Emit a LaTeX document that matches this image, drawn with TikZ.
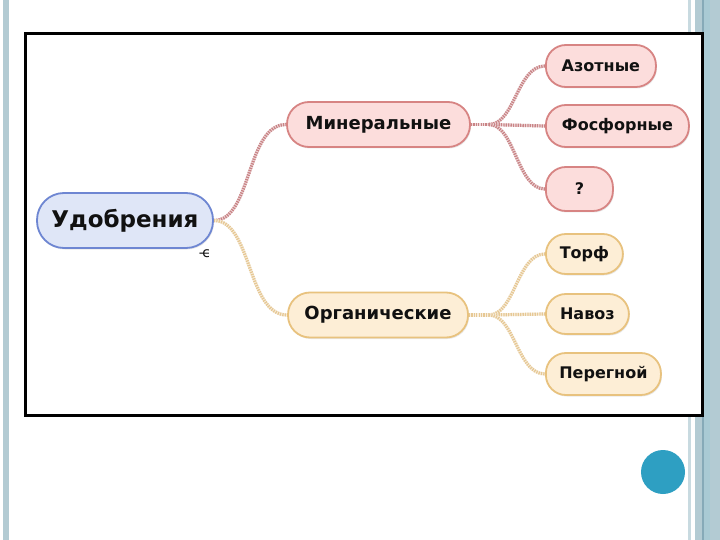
\documentclass[tikz,border=0pt]{standalone}
\usepackage{fontspec}
\setmainfont{DejaVu Sans}
\usetikzlibrary{shadows,backgrounds}
\pgfdeclarelayer{bottom}
\pgfsetlayers{bottom,background,main}
\definecolor{stripeA}{HTML}{B3CBD3}
\definecolor{stripeB}{HTML}{86AAB8}
\definecolor{stripeC}{HTML}{A9CAD4}
\definecolor{stripeD}{HTML}{C8DAE0}
\definecolor{udoF}{HTML}{DFE6F7}
\definecolor{udoB}{HTML}{6E86D2}
\definecolor{minF}{HTML}{FCDDDC}
\definecolor{minB}{HTML}{D78483}
\definecolor{minL}{HTML}{C98486}
\definecolor{orgF}{HTML}{FDEED6}
\definecolor{orgB}{HTML}{E8C27E}
\definecolor{orgL}{HTML}{E6C894}
\definecolor{dotblue}{HTML}{2E9FC2}
\definecolor{ink}{HTML}{111111}
\tikzset{
  bubble/.style={rectangle, inner sep=0pt, line width=1.8pt, text=ink,
    drop shadow={opacity=0.18, shadow xshift=1pt, shadow yshift=-1.5pt}},
  udostyle/.style={bubble, draw=udoB, fill=udoF, rounded corners=27pt,
    minimum width=176pt, minimum height=55pt,
    font=\bfseries\fontsize{23}{26}\selectfont},
  minmain/.style={bubble, draw=minB, fill=minF, rounded corners=22pt,
    minimum width=183pt, minimum height=45pt,
    font=\bfseries\fontsize{18}{21}\selectfont},
  orgmain/.style={bubble, draw=orgB, fill=orgF, rounded corners=22pt,
    minimum width=180pt, minimum height=45pt,
    font=\bfseries\fontsize{18}{21}\selectfont},
  minchild/.style={bubble, draw=minB, fill=minF, rounded corners=20pt,
    minimum height=42pt, anchor=west,
    font=\bfseries\fontsize{16}{19}\selectfont},
  orgchild/.style={bubble, draw=orgB, fill=orgF, rounded corners=20pt,
    minimum height=40pt, anchor=west,
    font=\bfseries\fontsize{16}{19}\selectfont},
  minlink/.style={draw=minL, line width=3.2pt, dash pattern=on 1.3pt off 1.1pt,
    preaction={draw=minL!30, line width=3.2pt}},
  orglink/.style={draw=orgL, line width=3.2pt, dash pattern=on 1.3pt off 1.1pt,
    preaction={draw=orgL!30, line width=3.2pt}}
}
\begin{document}
\begin{tikzpicture}[x=1pt,y=-1pt]
\begin{pgfonlayer}{bottom}
\fill[white] (0,0) rectangle (720,540);
\fill[stripeA] (3,0) rectangle (9,540);
\fill[stripeD] (688,0) rectangle (691,540);
\fill[stripeA] (695,0) rectangle (720,540);
\fill[stripeB] (701.5,0) rectangle (704,540);
\fill[stripeC] (704,0) rectangle (710,540);
\fill[white] (25,34) rectangle (702,415);
\end{pgfonlayer}
\draw[black, line width=3pt] (25,34) rectangle (702,415);

\node[udostyle] (udo) at (125,220.5) {Удобрения};
\node[font=\fontsize{14}{16}\selectfont, text=ink, inner sep=0pt] (eps) at (205,254) {-\kern-1.5pt ϵ};

\node[minmain] (min) at (378.5,124.5) {Минеральные};
\node[orgmain] (org) at (378,315) {Органические};

\node[minchild, minimum width=110pt] (az) at (545,66) {Азотные};
\node[minchild, minimum width=143pt] (fo) at (545,126) {Фосфорные};
\node[minchild, minimum width=67pt, minimum height=44pt] (q) at (545,189) {?};

\node[orgchild, minimum width=77pt] (to) at (545,254) {Торф};
\node[orgchild, minimum width=83pt] (na) at (545,314) {Навоз};
\node[orgchild, minimum width=115pt, minimum height=42pt] (pe) at (545,374) {Перегной};

\begin{pgfonlayer}{background}
\draw[minlink] (udo.east) .. controls +(38,0) and +(-40,0) .. (min.west);
\draw[orglink] (udo.east) .. controls +(38,0) and +(-40,0) .. (org.west);
\path (min.east) ++(18,0) coordinate (mf);
\path (org.east) ++(20,0) coordinate (of);
\draw[minlink] (min.east) -- (mf);
\draw[minlink] (mf) .. controls +(26,0) and +(-28,0) .. (az.west);
\draw[minlink] (mf) -- (fo.west);
\draw[minlink] (mf) .. controls +(26,0) and +(-28,0) .. (q.west);
\draw[orglink] (org.east) -- (of);
\draw[orglink] (of) .. controls +(26,0) and +(-28,0) .. (to.west);
\draw[orglink] (of) -- (na.west);
\draw[orglink] (of) .. controls +(26,0) and +(-28,0) .. (pe.west);
\end{pgfonlayer}

\fill[dotblue] (663,472) circle (22);
\end{tikzpicture}
\end{document}
